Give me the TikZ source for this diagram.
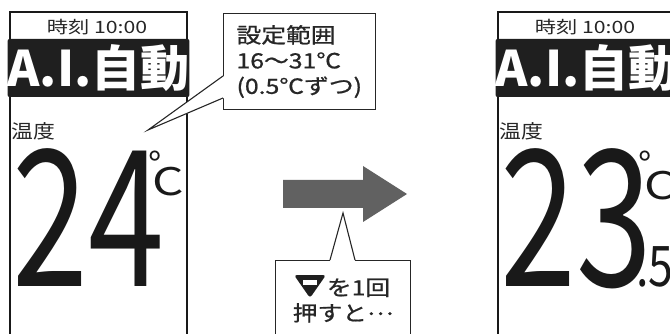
\documentclass[tikz,border=0pt]{standalone}
\usepackage{fontspec}
\setmainfont{Noto Sans CJK JP}
\newfontfamily\jpwide[FakeStretch=1.15]{Noto Sans CJK JP}
\newfontfamily\jpclock[FakeStretch=1.25]{Noto Sans CJK JP}
\newfontfamily\jpmedium[FakeStretch=1.18, FakeBold=0.8]{Noto Sans CJK JP}
\usetikzlibrary{
    positioning,
    calc
}
\tikzset{
    panel/.style={
        draw=black!90,
        line width=1.3pt
    }
}
\tikzset{
    modebar/.style={
        fill=black!88,
        rounded corners=2pt,
        minimum width=173pt,
        minimum height=58pt,
        inner sep=0pt,
        text=white,
        font=\fontsize{49}{49}\selectfont\bfseries
    }
}
\tikzset{
    clocktext/.style={
        inner sep=0pt,
        text=black!85,
        font=\jpclock\fontsize{17}{20}\selectfont
    }
}
\tikzset{
    labeltext/.style={
        inner sep=0pt,
        anchor=base west,
        text=black!85,
        font=\jpwide\fontsize{19}{22}\selectfont
    }
}
\tikzset{
    bigdigit/.style={
        inner sep=0pt,
        anchor=base west,
        text=black!90,
        font=\fontsize{190}{190}\selectfont
    }
}
\tikzset{
    unittext/.style={
        inner sep=0pt,
        text=black!90
    }
}
\tikzset{
    bubble/.style={
        draw=black!85,
        line width=1.1pt,
        fill=white
    }
}
\tikzset{
    bubbletext/.style={
        align=left,
        text=black!85,
        font=\jpmedium\fontsize{21}{25.5}\selectfont
    }
}
\tikzset{
    steparrow/.style={
        fill=black!62
    }
}

\begin{document}
\begin{tikzpicture}[x=1pt, y=1pt]

\useasboundingbox (0,0) rectangle (670,-334);
\clip (0,0) rectangle (670,-334);

% ------------------------------------------------------------
% Left display: 24 C
% ------------------------------------------------------------

\draw[panel] (10,-340) -- (10,-12) -- (187,-12) -- (187,-340);
\node[clocktext] (clockA) at (97,-27) {時刻 10:00};
\node[modebar] (modeA) at (98.5,-68) {A.I.自動};
\node[labeltext] (labelA) at (11,-139) {温度};
\node[bigdigit] (tempA) at (12,-287) {\scalebox{0.72}[1]{24}};
\node[unittext, anchor=north west, font=\fontsize{36}{36}\selectfont] (degA) at (148,-151) {°};
\node[unittext, anchor=base west, font=\fontsize{38}{38}\selectfont] (unitA) at (152,-196)
    {\scalebox{1.3}[1]{C}};

% ------------------------------------------------------------
% Callout: range
% ------------------------------------------------------------

\node[bubble, bubbletext, anchor=north west, minimum width=152pt,
    minimum height=96pt, inner xsep=13pt, text width=126pt] (range) at (223,-13)
    {設定範囲\\16〜31℃\\(0.5℃ずつ)};
\coordinate (tipA) at (148,-130);
\fill[white] ($(range.north west)+(1,-63)$) -- (tipA) -- ($(range.north west)+(1,-85)$) -- cycle;
\draw[bubble, fill=none] ($(range.north west)+(0,-63)$) -- (tipA) -- ($(range.north west)+(0,-85)$);

% ------------------------------------------------------------
% Step arrow and callout: press once
% ------------------------------------------------------------

\fill[steparrow] (283,-180) -- (363,-180) -- (363,-166) -- (407,-194)
    -- (363,-222) -- (363,-208) -- (283,-208) -- cycle;

\node[bubble, bubbletext, align=center, anchor=north west, minimum width=135pt,
    minimum height=80pt] (press) at (275,-260)
    {\hspace*{31pt}を1回\\押すと\raisebox{6pt}{…}};
\coordinate (tipB) at (343,-213);
\fill[white] ($(press.north west)+(55,-1)$) -- (tipB) -- ($(press.north west)+(80,-1)$) -- cycle;
\draw[bubble, fill=none] ($(press.north west)+(55,0)$) -- (tipB) -- ($(press.north west)+(80,0)$);
% down key icon
\fill[black!88, rounded corners=3pt] ($(press.north west)+(19,-15)$) -- ++(32,0)
    -- ++(-16,-23) -- cycle;
\fill[white] ($(press.north west)+(28,-19.5)$) rectangle ++(14,-5);

% ------------------------------------------------------------
% Right display: 23.5 C
% ------------------------------------------------------------

\begin{scope}[xshift=488pt]
\draw[panel] (10,-340) -- (10,-12) -- (187,-12) -- (187,-340);
\node[clocktext] (clockB) at (97,-27) {時刻 10:00};
\node[modebar] (modeB) at (98.5,-68) {A.I.自動};
\node[labeltext] (labelB) at (11,-139) {温度};
\node[bigdigit] (tempB) at (12,-287) {\scalebox{0.72}[1]{23}};
\node[unittext, anchor=north west, font=\fontsize{36}{36}\selectfont] (degB) at (150,-151) {°};
\node[unittext, anchor=base west, font=\fontsize{38}{38}\selectfont] (unitB) at (156,-200)
    {\scalebox{1.3}[1]{C}};
\node[unittext, anchor=base west, font=\fontsize{56}{56}\selectfont] (fracB) at (148,-287)
    {\scalebox{0.8}[1]{.5}};
\end{scope}

\end{tikzpicture}
\end{document}
